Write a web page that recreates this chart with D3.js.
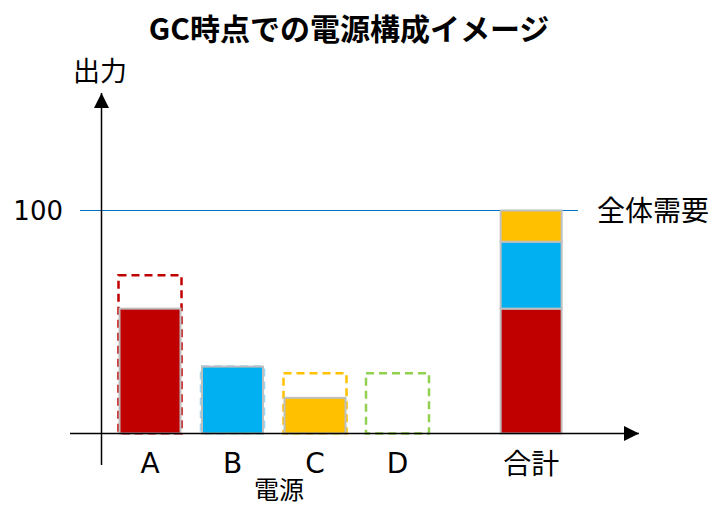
<!DOCTYPE html>
<html>
<head>
<meta charset="utf-8">
<script src="https://cdn.jsdelivr.net/npm/d3@7"></script>
<style>
  body { margin: 0; background: #fff; }
  text { font-family: "Noto Sans CJK JP", "DejaVu Sans", sans-serif; fill: #000; }
</style>
</head>
<body>
<div id="chart"></div>
<script>
// ---- data ----
const categories = ["A", "B", "C", "D"];
const capacity   = [71, 30, 27, 27];   // dashed outline
const output     = [56, 30, 16, 0];    // solid bar at GC
const stackNames  = ["A", "B", "C"];
const stackValues = [56, 30, 14];      // 合計 bar
const demand = 100;
const yTicks = [100];

const fillColor = { A: "#C00000", B: "#00B0F0", C: "#FFC000", D: "#92D050" };
const dashColor = { A: "#C00000", B: "#9DD6F0", C: "#FFC000", D: "#92D050" };

// ---- layout ----
const W = 718, H = 507;
const y = d3.scaleLinear().domain([0, 100]).range([433.5, 210.5]);
// slot index -> x centre; 合計 sits after a wider gap
const x = d3.scaleLinear().domain([0, 1]).range([150, 232.5]);
const totalSlot = 4.62;
const barW = 63;

const svg = d3.select("#chart").append("svg")
  .attr("width", W).attr("height", H);

const defs = svg.append("defs");
defs.append("marker").attr("id", "arrow")
  .attr("viewBox", "0 0 10 10").attr("refX", 10).attr("refY", 5)
  .attr("markerUnits", "userSpaceOnUse")
  .attr("markerWidth", 16).attr("markerHeight", 15)
  .attr("orient", "auto")
  .append("path").attr("d", "M0,0 L10,5 L0,10 Z").attr("fill", "#000");

// title
svg.append("text")
  .attr("x", 349).attr("y", 40)
  .attr("text-anchor", "middle")
  .style("font-size", "30px").style("font-weight", "bold")
  .text("GC時点での電源構成イメージ");

// demand line
svg.append("line")
  .attr("x1", 80).attr("x2", 578)
  .attr("y1", y(demand)).attr("y2", y(demand))
  .attr("stroke", "#0070C0").attr("stroke-width", 1.2);

svg.append("text")
  .attr("x", 597).attr("y", y(demand) + 10)
  .style("font-size", "28px")
  .text("全体需要");

// y tick labels
svg.selectAll(".ytick").data(yTicks).enter().append("text")
  .attr("x", 63).attr("y", d => y(d) + 9)
  .attr("text-anchor", "end")
  .style("font-size", "26px").style("font-family", "'DejaVu Sans', sans-serif")
  .text(d => d);

// per-source bars
const rows = categories.map((c, i) => ({ c, i, cap: capacity[i], out: output[i] }));

svg.selectAll(".cap").data(rows).enter().append("rect")
  .attr("x", d => x(d.i) - barW / 2)
  .attr("y", d => y(d.cap))
  .attr("width", barW)
  .attr("height", d => y(0) - y(d.cap))
  .attr("fill", "none")
  .attr("stroke", d => dashColor[d.c])
  .attr("stroke-width", 2.5)
  .attr("stroke-dasharray", "8,5");

svg.selectAll(".out").data(rows.filter(d => d.out > 0)).enter().append("rect")
  .attr("x", d => x(d.i) - barW / 2 + 1)
  .attr("y", d => y(d.out))
  .attr("width", barW - 2)
  .attr("height", d => y(0) - y(d.out))
  .attr("fill", d => fillColor[d.c])
  .attr("stroke", "#BFBFBF")
  .attr("stroke-width", 2);

// stacked total
let acc = 0;
const stack = stackNames.map((n, i) => {
  const s = { n, y0: acc, y1: acc + stackValues[i] };
  acc += stackValues[i];
  return s;
});

svg.selectAll(".stk").data(stack).enter().append("rect")
  .attr("x", x(totalSlot) - barW / 2 + 1)
  .attr("y", d => y(d.y1))
  .attr("width", barW - 2)
  .attr("height", d => y(d.y0) - y(d.y1))
  .attr("fill", d => fillColor[d.n])
  .attr("stroke", "#BFBFBF")
  .attr("stroke-width", 2);

// axes
svg.append("line")
  .attr("x1", 70).attr("x2", 639)
  .attr("y1", y(0)).attr("y2", y(0))
  .attr("stroke", "#000").attr("stroke-width", 1.5)
  .attr("marker-end", "url(#arrow)");

svg.append("line")
  .attr("x1", 101.5).attr("x2", 101.5)
  .attr("y1", 465).attr("y2", 93)
  .attr("stroke", "#000").attr("stroke-width", 1.5)
  .attr("marker-end", "url(#arrow)");

// category labels
svg.selectAll(".xl").data(categories).enter().append("text")
  .attr("x", (d, i) => x(i)).attr("y", 473)
  .attr("text-anchor", "middle")
  .style("font-size", "28px").style("font-family", "'DejaVu Sans', sans-serif")
  .text(d => d);

svg.append("text")
  .attr("x", x(totalSlot)).attr("y", 474)
  .attr("text-anchor", "middle")
  .style("font-size", "28px")
  .text("合計");

// axis titles
svg.append("text")
  .attr("x", 100).attr("y", 81)
  .attr("text-anchor", "middle")
  .style("font-size", "27px")
  .text("出力");

svg.append("text")
  .attr("x", 279).attr("y", 499)
  .attr("text-anchor", "middle")
  .style("font-size", "25px")
  .text("電源");
</script>
</body>
</html>
